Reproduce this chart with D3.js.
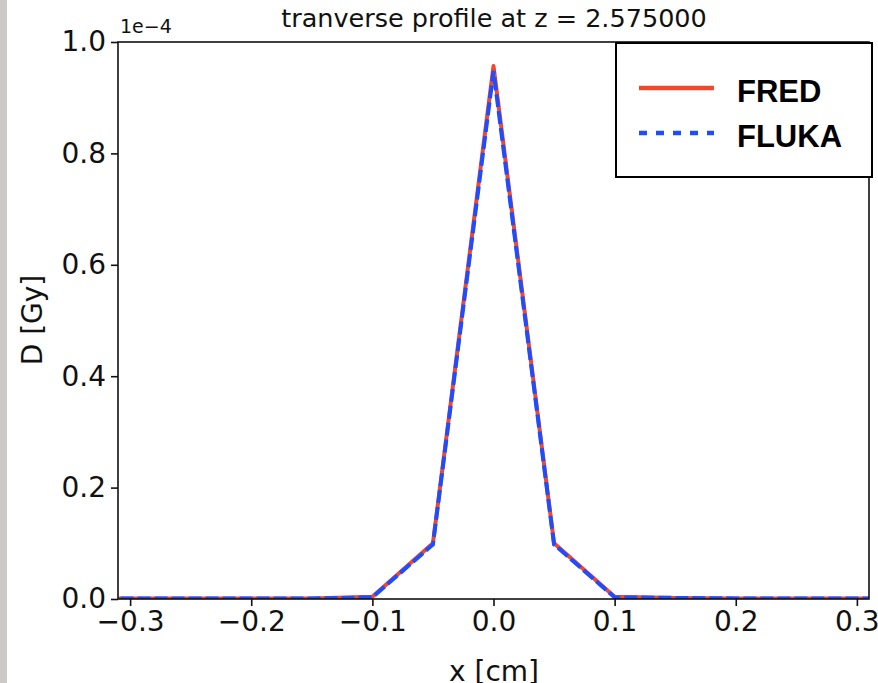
<!DOCTYPE html>
<html>
<head>
<meta charset="utf-8">
<script src="https://cdn.jsdelivr.net/npm/d3@7"></script>
<style>
  body { margin: 0; background: #fff; }
  svg { display: block; font-family: "DejaVu Sans", sans-serif; }
  .axis path, .axis line { stroke: #111; stroke-width: 1.6; }
  .axis text { font-size: 28px; fill: #111; font-family: "DejaVu Sans", sans-serif; }
</style>
</head>
<body>
<svg id="chart" width="878" height="683"></svg>
<script>
// x positions (cm)
var xs = [-0.35, -0.30, -0.25, -0.20, -0.15, -0.10, -0.05, 0.00, 0.05, 0.10, 0.15, 0.20, 0.25, 0.30, 0.35];
// dose (Gy)
var fred  = [0.001e-4, 0.001e-4, 0.001e-4, 0.001e-4, 0.001e-4, 0.004e-4, 0.100e-4, 0.957e-4, 0.100e-4, 0.004e-4, 0.002e-4, 0.001e-4, 0.001e-4, 0.001e-4, 0.001e-4];
var fluka = [0.001e-4, 0.001e-4, 0.001e-4, 0.001e-4, 0.001e-4, 0.003e-4, 0.098e-4, 0.948e-4, 0.098e-4, 0.003e-4, 0.002e-4, 0.001e-4, 0.001e-4, 0.001e-4, 0.001e-4];
var xTicks = [-0.3, -0.2, -0.1, 0.0, 0.1, 0.2, 0.3];
var yTicks = [0, 0.2e-4, 0.4e-4, 0.6e-4, 0.8e-4, 1.0e-4];
var title = "tranverse profile at z = 2.575000";

(function () {
    var svg = d3.select('#chart');

    // grey strip on the left of the slide
    svg.append("rect").attr("x", 0).attr("y", 0).attr("width", 7).attr("height", 683).attr("fill", "#cbcac6");

    var margin = { left: 118, right: 869, top: 42, bottom: 599 };

    var x = d3.scaleLinear().domain([-0.31, 0.31]).range([margin.left, margin.right]);
    var y = d3.scaleLinear().domain([0, 1e-4]).range([margin.bottom, margin.top]);

    svg.append("clipPath").attr("id", "clip")
        .append("rect").attr("x", margin.left).attr("y", margin.top - 10)
        .attr("width", margin.right - margin.left).attr("height", margin.bottom - margin.top + 10);

    var line = d3.line()
        .x(function (d, i) { return x(xs[i]); })
        .y(function (d) { return y(d); });

    var g = svg.append("g").attr("clip-path", "url(#clip)");
    g.append("path").datum(fred)
        .attr("d", line)
        .attr("fill", "none")
        .attr("stroke", "#f0482c")
        .attr("stroke-width", 4)
        .attr("stroke-linejoin", "round");
    g.append("path").datum(fluka)
        .attr("d", line)
        .attr("fill", "none")
        .attr("stroke", "#1f4cff")
        .attr("stroke-width", 4)
        .attr("stroke-dasharray", "13,4");

    // axes
    var xAxis = d3.axisBottom(x).tickValues(xTicks).tickSize(7).tickPadding(5)
        .tickFormat(function (d) { return d3.format(".1f")(d).replace("-", "\u2212"); });
    var yAxis = d3.axisLeft(y).tickValues(yTicks).tickSize(7).tickPadding(5)
        .tickFormat(function (d) { return (d / 1e-4).toFixed(1); });

    svg.append("g").attr("class", "axis")
        .attr("transform", "translate(0," + margin.bottom + ")")
        .call(xAxis)
        .call(function (s) { s.select(".domain").remove(); });
    svg.append("g").attr("class", "axis")
        .attr("transform", "translate(" + margin.left + ",0)")
        .call(yAxis)
        .call(function (s) { s.select(".domain").remove(); });

    // frame
    svg.append("rect")
        .attr("x", margin.left).attr("y", margin.top)
        .attr("width", margin.right - margin.left).attr("height", margin.bottom - margin.top)
        .attr("fill", "none").attr("stroke", "#111").attr("stroke-width", 1.6);

    // offset text and labels
    svg.append("text").attr("x", 120).attr("y", 33)
        .style("font-size", "19px").attr("fill", "#111").text("1e\u22124");

    svg.append("text").attr("x", 494).attr("y", 27)
        .attr("text-anchor", "middle").style("font-size", "25.5px").attr("fill", "#111")
        .text(title);

    svg.append("text")
        .attr("transform", "translate(" + 494 + "," + 681 + ")")
        .attr("text-anchor", "middle").style("font-size", "28px").attr("fill", "#111")
        .text("x [cm]");

    svg.append("text")
        .attr("transform", "translate(" + 42 + "," + 320 + "), rotate(-90)")
        .attr("text-anchor", "middle").style("font-size", "28px").attr("fill", "#111")
        .text("D [Gy]");

    // legend
    var legend = svg.append("g");
    legend.append("rect")
        .attr("x", 616).attr("y", 43).attr("width", 256).attr("height", 134)
        .attr("fill", "#fff").attr("stroke", "#000").attr("stroke-width", 2);
    var items = [
        { name: "FRED", color: "#f0482c", dash: null },
        { name: "FLUKA", color: "#1f4cff", dash: "8,9" }
    ];
    items.forEach(function (it, i) {
        var ly = 88 + i * 45;
        legend.append("line")
            .attr("x1", 639).attr("x2", 714).attr("y1", ly).attr("y2", ly)
            .attr("stroke", it.color).attr("stroke-width", 4.5)
            .attr("stroke-dasharray", it.dash);
        legend.append("text")
            .attr("x", 737).attr("y", ly + 14)
            .style("font-family", "'Liberation Sans', Arial, sans-serif")
            .style("font-weight", "bold").style("font-size", "31px").attr("fill", "#000")
            .text(it.name);
    });
})();
</script>
</body>
</html>
